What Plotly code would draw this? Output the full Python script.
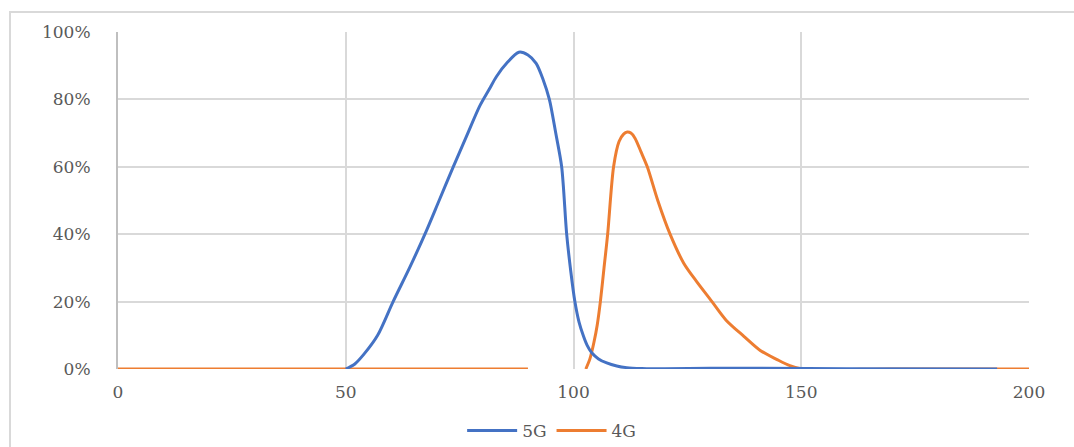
import plotly.graph_objects as go

# 5G distribution (x, share in %)
x_5g = [50, 52, 54, 57, 60.4, 64, 67.7, 70.5, 73.6, 76.5, 79.4, 81.5, 83.1, 85.5, 88, 90,
        91.8, 93.3, 94.7, 96.1, 97.4, 98.5, 99.4, 100.3, 101.2, 102.2, 103, 104, 105.5,
        107.3, 109.5, 111.7, 115, 120, 130, 140, 160, 193]
y_5g = [0, 1.5, 4.4, 10, 20, 30, 41, 50, 60, 69, 78, 83, 86.8, 91, 94, 93.2,
        90.7, 86, 80, 70, 60, 40, 29, 20, 14, 9.7, 7, 4.8, 3,
        1.8, 0.9, 0.4, 0.15, 0.05, 0.2, 0.2, 0.1, 0]

# 4G distribution (x, share in %); None marks the gap in the source series
x_4g = [0, 30, 60, 90, None, 102.7, 103.6, 104.5, 105.2, 105.9, 106.7, 107.5, 108.8, 110,
        111, 111.8, 112.6, 113.5, 114.8, 116.2, 118.5, 121.2, 124.2, 127, 130.4, 133.5,
        137.4, 141, 144.7, 147.5, 150.2, 170, 200]
y_4g = [0, 0, 0, 0, None, 0, 3, 8, 13, 20, 30, 40, 60, 67.5,
        69.7, 70.3, 70, 68.5, 64.5, 60, 50, 40, 31.4, 26, 20, 14.5,
        9.7, 5.5, 2.8, 1, 0, 0, 0]

x_ticks = [0, 50, 100, 150, 200]
y_ticks = [0, 20, 40, 60, 80, 100]
y_tick_text = ["0%", "20%", "40%", "60%", "80%", "100%"]

FONT = "DejaVu Serif, Liberation Serif, serif"
GRID = "#d9d9d9"
TXT = "#595959"

fig = go.Figure()
fig.add_trace(go.Scatter(x=x_4g, y=y_4g, name="4G", mode="lines",
                         line=dict(color="#ED7D31", width=3, shape="spline", smoothing=0.8),
                         connectgaps=False, legendrank=2))
fig.add_trace(go.Scatter(x=x_5g, y=y_5g, name="5G", mode="lines",
                         line=dict(color="#4472C4", width=3, shape="spline", smoothing=0.8),
                         legendrank=1))

fig.update_layout(
    width=1074, height=447,
    margin=dict(l=118, r=45, t=32, b=78, autoexpand=False),
    paper_bgcolor="white", plot_bgcolor="white",
    font=dict(family=FONT, size=17, color=TXT),
    showlegend=True,
    legend=dict(orientation="h", x=0.476, xanchor="center", y=-0.184, yanchor="middle",
                font=dict(family=FONT, size=17, color=TXT), itemwidth=50),
    xaxis=dict(range=[0, 200], tickvals=x_ticks, showgrid=True, gridcolor=GRID, gridwidth=2,
               zeroline=False, showline=False, ticks="", ticklabelstandoff=11,
               tickfont=dict(family=FONT, size=17, color=TXT)),
    yaxis=dict(range=[0, 100], tickvals=y_ticks, ticktext=y_tick_text, showgrid=True,
               gridcolor=GRID, gridwidth=2, zeroline=False, showline=True,
               linecolor="#bfbfbf", linewidth=2, ticks="", ticklabelstandoff=22,
               tickfont=dict(family=FONT, size=17, color=TXT)),
)

# outer chart-area frame (extends beyond the visible window on right/bottom)
fig.add_shape(type="rect", xref="paper", yref="paper",
              x0=-108 / 911, x1=1.2, y0=-0.5, y1=(369 - 12) / 337,
              line=dict(color="#d9d9d9", width=2), fillcolor="rgba(0,0,0,0)", layer="below")

fig.write_html("out.html")
